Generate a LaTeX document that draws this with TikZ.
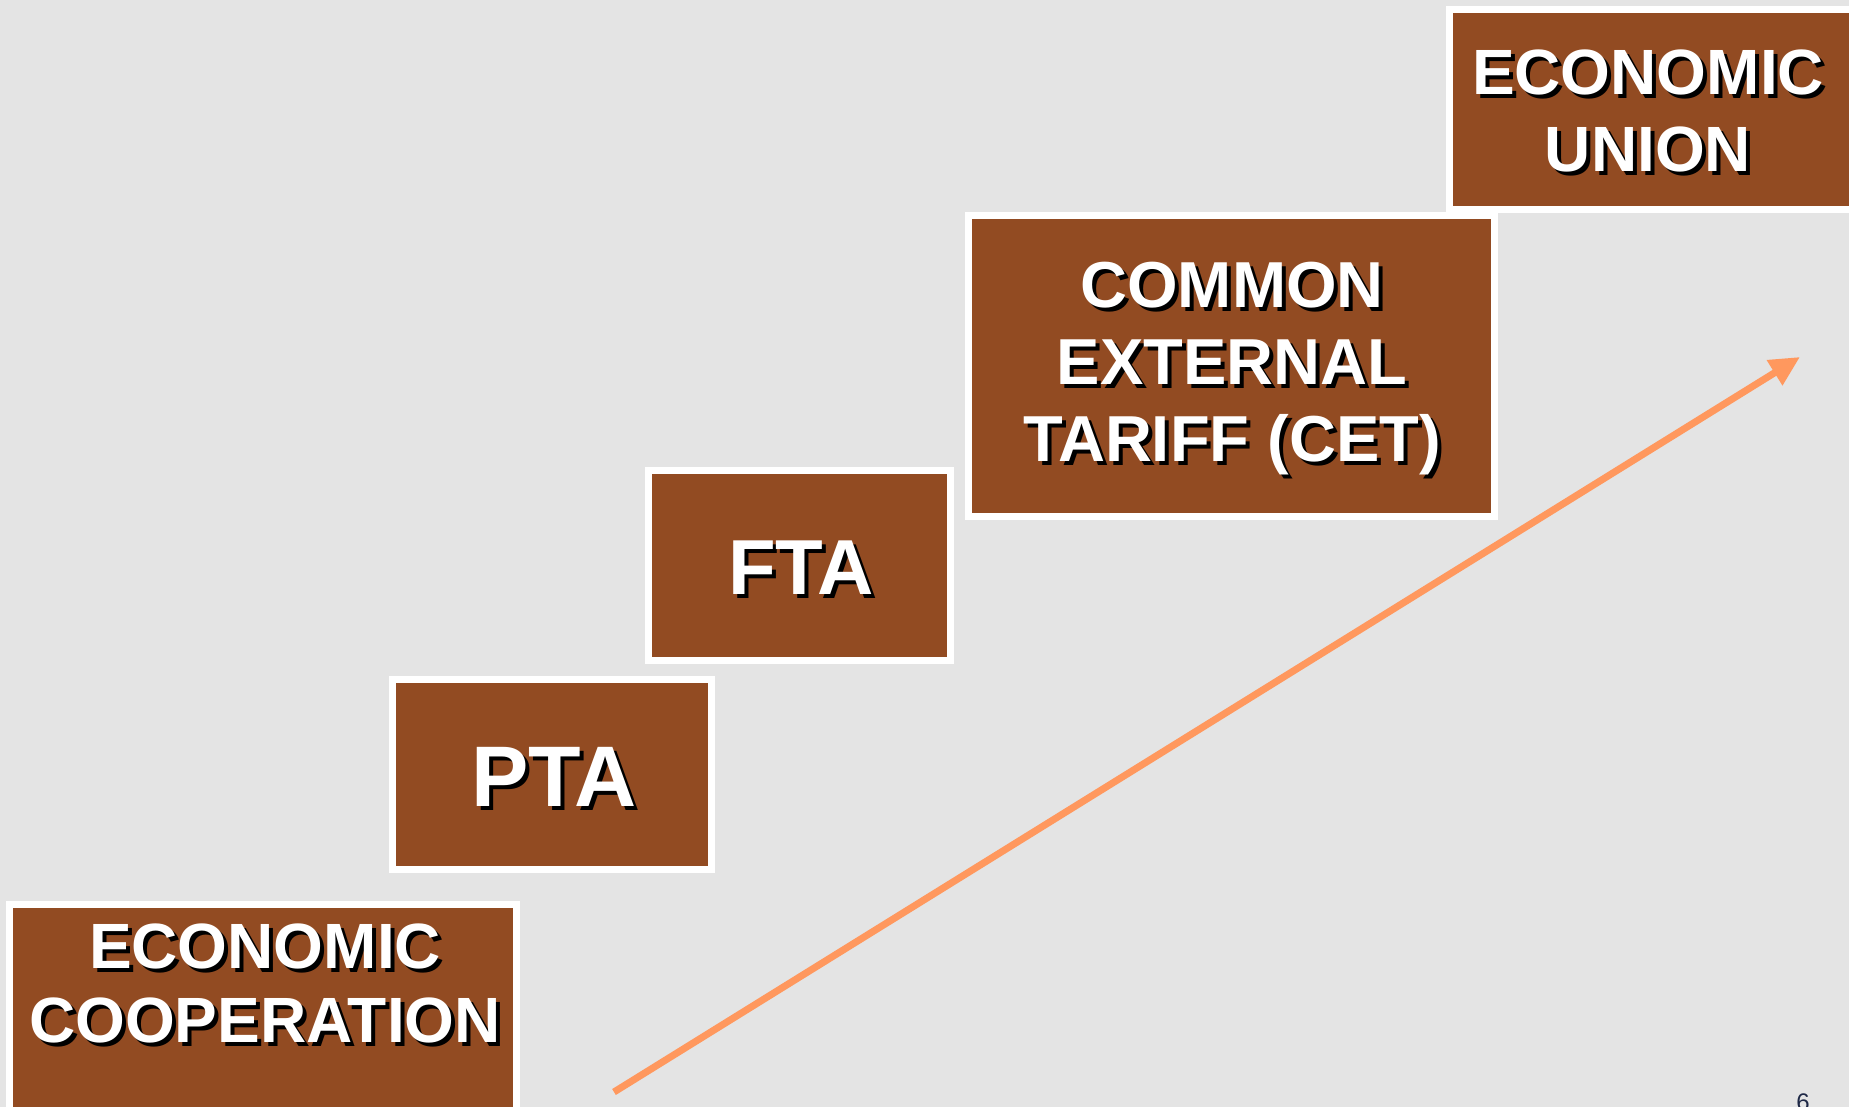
\documentclass[tikz,border=0pt]{standalone}
\usepackage{fontspec}
\setmainfont{Liberation Sans}
\usepackage{xcolor}
\usetikzlibrary{arrows.meta,calc}

\definecolor{stagebrown}{RGB}{146,75,34}
\definecolor{paper}{RGB}{228,228,228}
\definecolor{risearrow}{RGB}{255,152,94}
\definecolor{pagenum}{RGB}{30,40,70}
\newcommand{\stagefont}[2]{\fontsize{#1}{#2}\selectfont\bfseries}

\begin{document}
\begin{tikzpicture}[x=1pt,y=-1pt,
  stagebox/.style={draw=white,line width=7pt,fill=stagebrown,inner sep=0pt},
  stagetext/.style={text=white,align=center,inner sep=0pt},
  stageshade/.style={text=black,align=center,inner sep=0pt}]
  \fill[paper] (0,0) rectangle (1849,1107);
  \useasboundingbox (0,0) rectangle (1849,1107);
  \clip (0,0) rectangle (1849,1107);

  % the five steps
  \node[stagebox,minimum width=507pt,minimum height=212pt] (coop) at (263,1010.5) {};
  \node[stagebox,minimum width=319pt,minimum height=190pt] (pta) at (552,774.5) {};
  \node[stagebox,minimum width=302pt,minimum height=190pt] (fta) at (799.5,565.5) {};
  \node[stagebox,minimum width=526pt,minimum height=301pt] (cet) at (1231.5,366) {};
  \node[stagebox,minimum width=407pt,minimum height=200pt] (union) at (1653,109.5) {};

  % labels, each with its black drop shadow
  \node[stageshade,font=\stagefont{64}{74}] (coopshade) at ($(265,983)+(4,4)$) {ECONOMIC\\COOPERATION};
  \node[stagetext,font=\stagefont{64}{74}] (cooptext) at (265,983) {ECONOMIC\\COOPERATION};
  \node[stageshade,font=\stagefont{86}{90}] (ptashade) at ($(554,777)+(4,4)$) {PTA};
  \node[stagetext,font=\stagefont{86}{90}] (ptatext) at (554,777) {PTA};
  \node[stageshade,font=\stagefont{78}{84}] (ftashade) at ($(801,568)+(4,4)$) {FTA};
  \node[stagetext,font=\stagefont{78}{84}] (ftatext) at (801,568) {FTA};
  \node[stageshade,font=\stagefont{65}{77}] (cetshade) at ($(1232,369)+(4,4)$) {COMMON\\EXTERNAL\\TARIFF (CET)};
  \node[stagetext,font=\stagefont{65}{77}] (cettext) at (1232,369) {COMMON\\EXTERNAL\\TARIFF (CET)};
  \node[stageshade,font=\stagefont{64}{77}] (unionshade) at ($(1648,111)+(4,4)$) {ECONOMIC\\UNION};
  \node[stagetext,font=\stagefont{64}{77}] (uniontext) at (1648,111) {ECONOMIC\\UNION};

  % rising arrow
  \coordinate (risestart) at (614,1092);
  \coordinate (riseend) at (1800,357);
  \draw[risearrow,line width=7pt,-{Triangle[length=30pt,width=28pt]}] (risestart) -- (riseend);

  \node[text=pagenum,font=\fontsize{24}{28}\selectfont,inner sep=0pt,anchor=north] (pageno) at (1803,1094) {6};
\end{tikzpicture}
\end{document}
